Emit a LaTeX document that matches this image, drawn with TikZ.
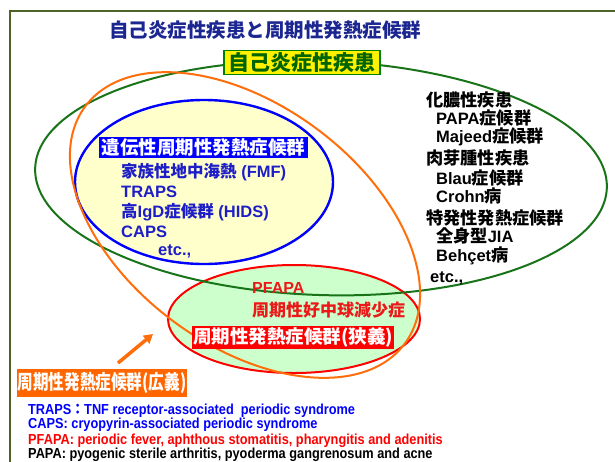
\documentclass[tikz,border=0pt]{standalone}
\usepackage{fontspec}
\usepackage{graphicx}
\usetikzlibrary{arrows.meta}
\setmainfont{Liberation Sans}
\newfontfamily\jp{Noto Sans CJK JP}
\newcommand\fz[1]{\fontsize{#1}{#1}\selectfont}
\newcommand\J[1]{{\jp #1}}
\newcommand\JR[1]{{\jp\fz{17.2}#1}}
\definecolor{framec}{RGB}{79,98,40}
\definecolor{titleblue}{RGB}{28,38,145}
\definecolor{gline}{RGB}{25,115,25}
\definecolor{boxgreen}{RGB}{0,128,0}
\definecolor{dgreen}{RGB}{0,100,0}
\definecolor{oline}{RGB}{255,110,10}
\definecolor{obox}{RGB}{255,102,0}
\definecolor{yfill}{RGB}{255,255,204}
\definecolor{gfill}{RGB}{204,255,204}
\definecolor{listblue}{RGB}{30,30,200}
\definecolor{pred}{RGB}{235,25,25}
\begin{document}
\begin{tikzpicture}[x=1pt,y=-1pt,
  lbl/.style={inner sep=0pt, anchor=base west},
  tagbox/.style={inner xsep=2.5pt, inner ysep=1.5pt, text=white}]
\useasboundingbox (0,0) rectangle (615,461);
\clip (0,0) rectangle (615,461);
% frame
\draw[framec, line width=2] (10,470) -- (10,11) -- (625,11);
% fills
\fill[yfill] (204,182) ellipse [x radius=129, y radius=82];
\fill[gfill] (294,319) ellipse [x radius=126, y radius=54];
% outlines
\draw[blue, line width=2.4] (204,182) ellipse [x radius=129, y radius=82];
\draw[red, line width=2] (294,319) ellipse [x radius=126, y radius=54];
\draw[gline, line width=2, rotate around={-2:(321,178)}] (321,178) ellipse [x radius=286, y radius=117];
\draw[oline, line width=2, rotate around={-36.6:(245,225)}] (245,225) ellipse [x radius=199, y radius=120];
% title
\node[font={\fz{19.5}\bfseries\jp}, text=titleblue] (title) at (265,30) {自己炎症性疾患と周期性発熱症候群};
% labels on sets
\node[draw=boxgreen, line width=1.5, fill=yellow, text=dgreen, inner xsep=4.5pt, inner ysep=2pt, font={\fz{21}\bfseries\jp}] (auto) at (302,62.5) {自己炎症性疾患};
\node[tagbox, fill=blue, font={\fz{18.5}\bfseries\jp}] (hered) at (203.5,147.5) {遺伝性周期性発熱症候群};
% blue list
\begin{scope}[every node/.style={lbl, text=listblue, font={\fz{16.5}\bfseries}}]
\node (fmf) at (121,177) {\J{家族性地中海熱} (FMF)};
\node (traps) at (121,197) {TRAPS};
\node (hids) at (121,217) {\J{高}IgD\J{症候群} (HIDS)};
\node (caps) at (121,237) {CAPS};
\node (etc1) at (158,255) {etc.,};
\end{scope}
% right list
\begin{scope}[every node/.style={lbl, text=black, font={\fz{16.5}\bfseries}}]
\node (c1) at (426,106) {\JR{化膿性疾患}};
\node (papa) at (436,124) {PAPA\JR{症候群}};
\node (maj) at (436,142) {Majeed\JR{症候群}};
\node (c2) at (426,164) {\JR{肉芽腫性疾患}};
\node (blau) at (436,184) {Blau\JR{症候群}};
\node (crohn) at (436,202) {Crohn\JR{病}};
\node (c3) at (426,224) {\JR{特発性発熱症候群}};
\node (jia) at (436,242.5) {\JR{全身型}JIA};
\node (behcet) at (436,261) {Behçet\JR{病}};
\node (etc2) at (430,282) {etc.,};
\end{scope}
% PFAPA set
\node[lbl, text=pred, font={\fz{16}\bfseries}] (pfapa) at (252,293) {PFAPA};
\node[lbl, text=pred, font={\fz{17}\bfseries\jp}] (neut) at (252,316) {周期性好中球減少症};
\node[tagbox, fill=red, inner xsep=1pt, font={\fz{18.5}\bfseries\jp}] (narrow) at (293,337.5) {周期性発熱症候群(狭義)};
% broad label and arrow
\node[tagbox, fill=obox, inner xsep=1pt, inner ysep=3pt, font={\fz{20}\bfseries\jp}] (broad) at (102,383) {\scalebox{0.78}[1]{周期性発熱症候群(広義)}};
\coordinate (atail) at (118,363);
\coordinate (ahead) at (153,334);
\draw[oline, line width=3.5, -{Triangle[length=9pt,width=10pt]}] (atail) -- (ahead);
% footnotes
\begin{scope}[every node/.style={lbl, font={\fz{14.5}\bfseries}}]
\node[text=blue] (n1) at (28,414) {\scalebox{0.88}[1]{TRAPS\J{：}TNF receptor-associated\ \ periodic syndrome}};
\node[text=blue] (n2) at (28,428) {\scalebox{0.88}[1]{CAPS: cryopyrin-associated periodic syndrome}};
\node[text=red] (n3) at (28,444) {\scalebox{0.88}[1]{PFAPA: periodic fever, aphthous stomatitis, pharyngitis and adenitis}};
\node[text=black] (n4) at (28,458.5) {\scalebox{0.88}[1]{PAPA: pyogenic sterile arthritis, pyoderma gangrenosum and acne}};
\end{scope}
\end{tikzpicture}
\end{document}
